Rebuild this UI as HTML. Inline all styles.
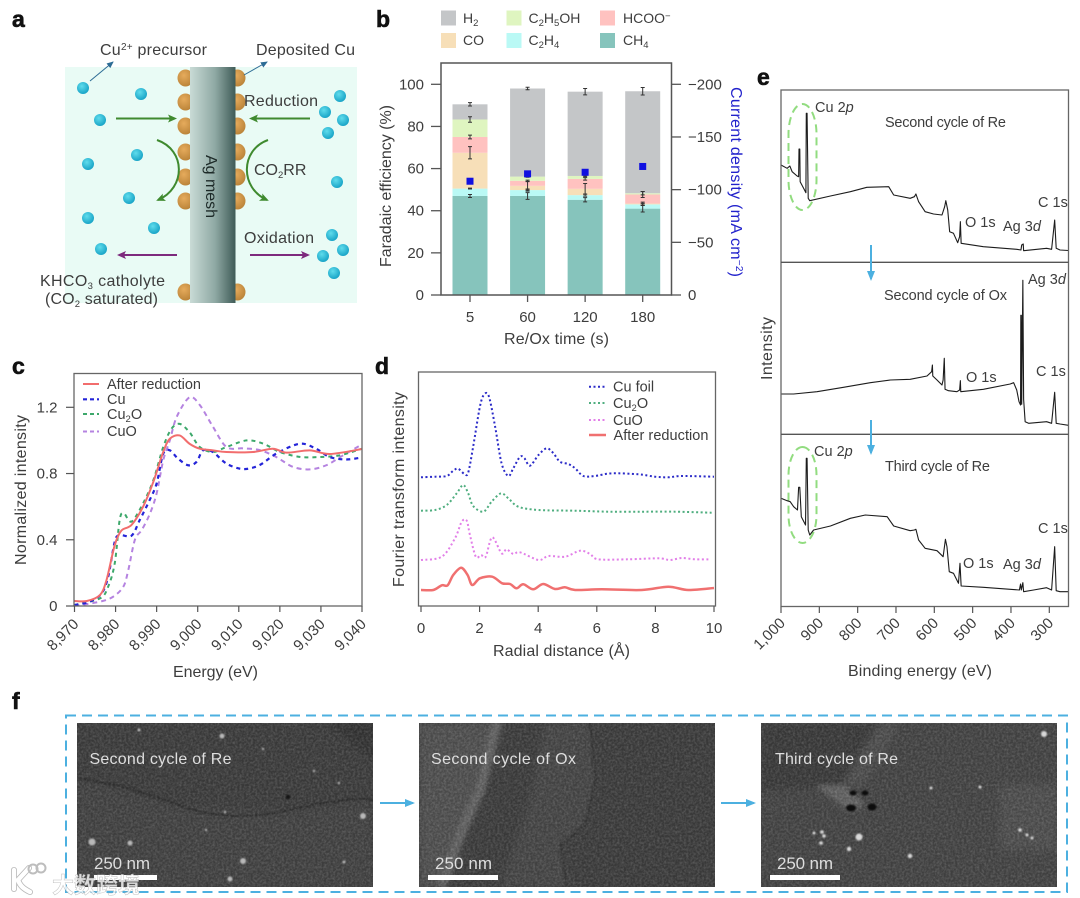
<!DOCTYPE html>
<html lang="en">
<head>
<meta charset="utf-8">
<title>Cu electrode characterisation figure</title>
<style>
html,body{margin:0;padding:0;background:#fff;}
svg{display:block;}
text{font-family:"Liberation Sans","Noto Sans CJK SC",sans-serif;fill:#3d3d3d;font-size:15px;}
.pl{font-weight:700;font-size:23px;fill:#111;stroke:#111;stroke-width:.6px;}
.sem{fill:#dedede;font-size:16px;}
.sub{font-size:9.5px;}
.at{font-size:16px;}
.lg{font-size:14px;}
.pk{font-size:14.5px;}
</style>
</head>
<body>
<svg id="fig" xmlns="http://www.w3.org/2000/svg" width="1080" height="898" viewBox="0 0 1080 898">
<defs>
<linearGradient id="meshGrad" x1="0" x2="1" y1="0" y2="0"><stop offset="0" stop-color="#c9dbd6"/><stop offset=".55" stop-color="#8fa9a4"/><stop offset="1" stop-color="#3f5b57"/></linearGradient>
<radialGradient id="ballGrad" cx=".4" cy=".35" r=".7"><stop offset="0" stop-color="#5fdcec"/><stop offset="1" stop-color="#14a0c4"/></radialGradient>
<radialGradient id="cuGrad" cx=".4" cy=".35" r=".75"><stop offset="0" stop-color="#e6ab5c"/><stop offset="1" stop-color="#b57f35"/></radialGradient>
<marker id="mGreen" markerWidth="9" markerHeight="8" refX="7" refY="4" orient="auto" markerUnits="userSpaceOnUse"><path d="M0 0L9 4L0 8L2 4Z" fill="#3f8a2f"/></marker>
<marker id="mPurple" markerWidth="9" markerHeight="8" refX="7" refY="4" orient="auto" markerUnits="userSpaceOnUse"><path d="M0 0L9 4L0 8L2 4Z" fill="#7d2a7d"/></marker>
<marker id="mBlue" markerWidth="7" markerHeight="6" refX="6" refY="3" orient="auto" markerUnits="userSpaceOnUse"><path d="M0 0L7 3L0 6Z" fill="#2d6c95"/></marker>
<marker id="mSky" markerWidth="10" markerHeight="8" refX="8" refY="4" orient="auto" markerUnits="userSpaceOnUse"><path d="M0 0L10 4L0 8Z" fill="#4cb0e0"/></marker>
<filter id="grain" x="0" y="0" width="100%" height="100%" color-interpolation-filters="sRGB"><feTurbulence type="fractalNoise" baseFrequency=".45" numOctaves="2" seed="4"/><feColorMatrix values="1.5 0 0 0 -.5  1.5 0 0 0 -.5  1.5 0 0 0 -.5  0 0 0 0 .16"/></filter>
<filter id="soft" x="-20%" y="-20%" width="140%" height="140%"><feGaussianBlur stdDeviation="4"/></filter>
<filter id="soft2" x="-30%" y="-10%" width="160%" height="120%"><feGaussianBlur stdDeviation="2.5"/></filter>
<filter id="soft1" x="-30%" y="-30%" width="160%" height="160%"><feGaussianBlur stdDeviation=".9"/></filter>
<clipPath id="clipC"><rect x="74" y="373" width="288" height="233"/></clipPath>
<clipPath id="clip1"><rect x="77" y="723" width="296" height="164"/></clipPath>
<clipPath id="clip2"><rect x="419" y="723" width="296" height="164"/></clipPath>
<clipPath id="clip3"><rect x="761" y="723" width="296" height="164"/></clipPath>
</defs>
<rect width="1080" height="898" fill="#fff"/>

<g>
<text class="pl" x="12" y="27">a</text>
<text class="pl" x="376" y="27">b</text>
<text class="pl" x="12" y="374">c</text>
<text class="pl" x="375" y="374">d</text>
<text class="pl" x="757" y="85">e</text>
<text class="pl" x="12" y="709">f</text>
</g>

<!-- PANEL A -->
<g id="panelA">
<rect x="65" y="67" width="292" height="236" fill="#e9fbf5"/>
<g id="cuDots"></g>
<rect x="190" y="67" width="45.5" height="236" fill="url(#meshGrad)"/>
<text class="at" transform="translate(206,155) rotate(90)" textLength="63" style="fill:#1d2a28">Ag mesh</text>
<g id="ions"></g>
<g fill="none" stroke-width="2">
<line x1="116" y1="118.5" x2="175" y2="118.5" stroke="#3f8a2f" marker-end="url(#mGreen)"/>
<line x1="310" y1="118.5" x2="251" y2="118.5" stroke="#3f8a2f" marker-end="url(#mGreen)"/>
<path d="M157 140C186 150 186 188 158 200" stroke="#3f8a2f" marker-end="url(#mGreen)"/>
<path d="M268 140C240 150 240 188 267 200" stroke="#3f8a2f" marker-end="url(#mGreen)"/>
<line x1="177" y1="255" x2="119" y2="255" stroke="#7d2a7d" marker-end="url(#mPurple)"/>
<line x1="250" y1="255" x2="308" y2="255" stroke="#7d2a7d" marker-end="url(#mPurple)"/>
<line x1="90" y1="81" x2="113" y2="62" stroke="#2d6c95" stroke-width="1" marker-end="url(#mBlue)"/>
<line x1="244" y1="75" x2="267" y2="62" stroke="#2d6c95" stroke-width="1" marker-end="url(#mBlue)"/>
</g>
<text class="at" x="100" y="55" textLength="107">Cu<tspan dy="-5" style="font-size:10px">2+</tspan><tspan dy="5"> precursor</tspan></text>
<text class="at" x="256" y="55" textLength="99">Deposited Cu</text>
<text class="at" x="244" y="106" textLength="74">Reduction</text>
<text class="at" x="254" y="175">CO<tspan dy="3" class="sub">2</tspan><tspan dy="-3">RR</tspan></text>
<text class="at" x="244" y="243" textLength="70">Oxidation</text>
<text class="at" x="40" y="286" textLength="125">KHCO<tspan dy="3" class="sub">3</tspan><tspan dy="-3"> catholyte</tspan></text>
<text class="at" x="45" y="304" textLength="113">(CO<tspan dy="3" class="sub">2</tspan><tspan dy="-3"> saturated)</tspan></text>
</g>

<!-- PANEL B -->
<g id="panelB">
<g id="bBars"></g>
<rect x="441" y="63" width="230.5" height="232" fill="none" stroke="#555" stroke-width="1.5"/>
<g id="bAxes"></g>
<g>
<rect x="441" y="10.5" width="15" height="15" fill="#c4c6c8"/>
<text class="lg" x="463" y="23">H<tspan dy="3" class="sub">2</tspan></text>
<rect x="506.5" y="10.5" width="15" height="15" fill="#dff5c0"/>
<text class="lg" x="528.5" y="23">C<tspan dy="3" class="sub">2</tspan><tspan dy="-3">H</tspan><tspan dy="3" class="sub">5</tspan><tspan dy="-3">OH</tspan></text>
<rect x="600" y="10.5" width="15" height="15" fill="#ffc2c0"/>
<text class="lg" x="623" y="23">HCOO<tspan dy="-4" class="sub">−</tspan></text>
<rect x="441" y="33" width="15" height="15" fill="#f7dfb8"/>
<text class="lg" x="463" y="45">CO</text>
<rect x="506.5" y="33" width="15" height="15" fill="#baf9f5"/>
<text class="lg" x="528.5" y="45">C<tspan dy="3" class="sub">2</tspan><tspan dy="-3">H</tspan><tspan dy="3" class="sub">4</tspan></text>
<rect x="600" y="33" width="15" height="15" fill="#86c4bc"/>
<text class="lg" x="623" y="45">CH<tspan dy="3" class="sub">4</tspan></text>
</g>
<text class="at" transform="translate(391,267) rotate(-90)" textLength="162">Faradaic efficiency (%)</text>
<text class="at" x="504" y="344" textLength="105">Re/Ox time (s)</text>
<text class="at" transform="translate(731,87) rotate(90)" textLength="190" style="fill:#2222cc">Current density (mA cm<tspan dy="-5" style="font-size:10px;fill:#2222cc">−2</tspan><tspan dy="5" style="fill:#2222cc">)</tspan></text>
</g>

<!-- PANEL C -->
<g id="panelC">
<g id="cLines" clip-path="url(#clipC)"></g>
<rect x="74" y="373.5" width="288" height="232.5" fill="none" stroke="#666" stroke-width="1.3"/>
<g id="cAxes"></g>
<g>
<line x1="83" y1="384" x2="99" y2="384" stroke="#f26d6d" stroke-width="2"/>
<text class="pk" x="107" y="389" textLength="94">After reduction</text>
<line x1="83" y1="399.3" x2="99" y2="399.3" stroke="#2424d8" stroke-width="2.2" stroke-dasharray="4 3"/>
<text class="pk" x="107" y="404">Cu</text>
<line x1="83" y1="414" x2="99" y2="414" stroke="#3da86b" stroke-width="2" stroke-dasharray="4 3"/>
<text class="pk" x="107" y="419">Cu<tspan dy="3" class="sub">2</tspan><tspan dy="-3">O</tspan></text>
<line x1="83" y1="431.5" x2="99" y2="431.5" stroke="#b583e0" stroke-width="2" stroke-dasharray="4 3"/>
<text class="pk" x="107" y="436">CuO</text>
</g>
<text class="at" transform="translate(26,565) rotate(-90)" textLength="150">Normalized intensity</text>
<text class="at" x="173" y="677" textLength="85">Energy (eV)</text>
</g>

<!-- PANEL D -->
<g id="panelD">
<g id="dLines"></g>
<rect x="418.5" y="372" width="297" height="234" fill="none" stroke="#666" stroke-width="1.3"/>
<g id="dAxes"></g>
<g>
<line x1="589" y1="386.7" x2="606" y2="386.7" stroke="#2b2bc8" stroke-width="2" stroke-dasharray="2 2.5"/>
<text class="pk" x="613" y="391.5">Cu foil</text>
<line x1="589" y1="403" x2="606" y2="403" stroke="#4fae7f" stroke-width="2" stroke-dasharray="2 2.5"/>
<text class="pk" x="613" y="408">Cu<tspan dy="3" class="sub">2</tspan><tspan dy="-3">O</tspan></text>
<line x1="589" y1="420" x2="606" y2="420" stroke="#e27fe8" stroke-width="2" stroke-dasharray="2 2.5"/>
<text class="pk" x="613" y="425">CuO</text>
<line x1="589" y1="435" x2="606" y2="435" stroke="#f07070" stroke-width="2.5"/>
<text class="pk" x="613.5" y="440" textLength="95">After reduction</text>
</g>
<text class="at" transform="translate(404,587) rotate(-90)" textLength="195">Fourier transform intensity</text>
<text class="at" x="493" y="656" textLength="137">Radial distance (Å)</text>
</g>

<!-- PANEL E -->
<g id="panelE">
<rect x="788.5" y="104" width="28" height="106" rx="14" ry="30" fill="none" stroke="#92dc80" stroke-width="2" stroke-dasharray="8 5"/>
<rect x="788.5" y="447" width="28" height="96" rx="14" ry="28" fill="none" stroke="#92dc80" stroke-width="2" stroke-dasharray="8 5"/>
<g id="eLines"></g>
<rect x="781" y="90" width="287.5" height="516.5" fill="none" stroke="#666" stroke-width="1.3"/>
<line x1="781" x2="1068.5" y1="262.3" y2="262.3" stroke="#555" stroke-width="1.3"/>
<line x1="781" x2="1068.5" y1="434.3" y2="434.3" stroke="#555" stroke-width="1.3"/>
<g id="eAxes"></g>
<line x1="871" y1="245" x2="871" y2="279" stroke="#4cb0e0" stroke-width="2" marker-end="url(#mSky)"/>
<line x1="871" y1="420" x2="871" y2="453" stroke="#4cb0e0" stroke-width="2" marker-end="url(#mSky)"/>
<text class="pk" x="815" y="112">Cu 2<tspan font-style="italic">p</tspan></text>
<text class="pk" x="885" y="127" textLength="121">Second cycle of Re</text>
<text class="pk" x="965" y="227">O 1s</text>
<text class="pk" x="1003" y="231">Ag 3<tspan font-style="italic">d</tspan></text>
<text class="pk" x="1038" y="207">C 1s</text>
<text class="pk" x="1028" y="284">Ag 3<tspan font-style="italic">d</tspan></text>
<text class="pk" x="884" y="300" textLength="123">Second cycle of Ox</text>
<text class="pk" x="966" y="382">O 1s</text>
<text class="pk" x="1036" y="376">C 1s</text>
<text class="pk" x="814" y="456">Cu 2<tspan font-style="italic">p</tspan></text>
<text class="pk" x="885" y="471" textLength="105">Third cycle of Re</text>
<text class="pk" x="963" y="568">O 1s</text>
<text class="pk" x="1003" y="569">Ag 3<tspan font-style="italic">d</tspan></text>
<text class="pk" x="1038" y="533">C 1s</text>
<text class="at" transform="translate(772,380) rotate(-90)" textLength="63">Intensity</text>
<text class="at" x="848" y="676" textLength="144">Binding energy (eV)</text>
</g>

<!-- PANEL F -->
<g id="panelF">
<rect x="66" y="715.5" width="1001" height="176.5" fill="none" stroke="#4cb0e0" stroke-width="2" stroke-dasharray="10 6"/>
<g clip-path="url(#clip1)">
<rect x="77" y="723" width="296" height="164" fill="#434343"/>
<path d="M77 780L180 808L290 812L373 802V887H77Z" fill="#4a4a4a" filter="url(#soft)"/>
<path d="M330 723L373 760V723Z" fill="#383838" filter="url(#soft)"/>
<path d="M77 778Q130 786 179 805T289 810T373 800" fill="none" stroke="#2d2d2d" stroke-width="1.5" filter="url(#soft1)"/>
<rect x="77" y="723" width="296" height="164" filter="url(#grain)"/>
<g fill="#b8b8b8" filter="url(#soft1)"><circle cx="92" cy="842" r="3.5"/><circle cx="130" cy="843" r="2.5"/><circle cx="243" cy="861" r="3"/><circle cx="222" cy="736" r="2.5"/><circle cx="363" cy="816" r="3"/><circle cx="139" cy="730" r="1.5"/><circle cx="230" cy="879" r="2.5"/><circle cx="344" cy="862" r="1.5"/><circle cx="263" cy="749" r="1.2"/><circle cx="314" cy="771" r="1.2"/><circle cx="339" cy="783" r="1.2"/><circle cx="225" cy="812" r="1.2"/><circle cx="206" cy="830" r="1.2"/></g>
<circle cx="288" cy="797" r="2.5" fill="#141414" filter="url(#soft1)"/>
<text class="sem" x="89.5" y="764" textLength="142">Second cycle of Re</text>
<text class="sem" x="94" y="869" textLength="56" style="font-size:17px">250 nm</text>
<rect x="94" y="875" width="63" height="5" fill="#fff"/>
</g>
<line x1="380" y1="803" x2="413" y2="803" stroke="#4cb0e0" stroke-width="2" marker-end="url(#mSky)"/>
<g clip-path="url(#clip2)">
<rect x="419" y="723" width="296" height="164" fill="#434343"/>
<path d="M419 723H500L482 790L465 830L444 887H419Z" fill="#595959" filter="url(#soft)"/>
<path d="M545 723H590L596 780L585 825L561 845L570 887H500L530 800Z" fill="#4d4d4d" filter="url(#soft)"/>
<path d="M497 723L480 790L462 830L441 887" fill="none" stroke="#6e6e6e" stroke-width="9" filter="url(#soft2)"/>
<path d="M590 723L596 780L585 825L561 845L567 887" fill="none" stroke="#383838" stroke-width="2" filter="url(#soft1)"/>
<rect x="419" y="723" width="296" height="164" filter="url(#grain)"/>
<text class="sem" x="431" y="764" textLength="145">Second cycle of Ox</text>
<text class="sem" x="435" y="869" textLength="57" style="font-size:17px">250 nm</text>
<rect x="428" y="875" width="70" height="5" fill="#fff"/>
</g>
<line x1="721" y1="803" x2="754" y2="803" stroke="#4cb0e0" stroke-width="2" marker-end="url(#mSky)"/>
<g clip-path="url(#clip3)">
<rect x="761" y="723" width="296" height="164" fill="#4b4b4b"/>
<path d="M761 723H880L845 785L761 790Z" fill="#3f3f3f" filter="url(#soft)"/>
<path d="M880 723H900L862 785H842Z" fill="#575757" filter="url(#soft)"/>
<path d="M815 785H845L865 805L850 812Z" fill="#6c6c6c" filter="url(#soft2)"/>
<path d="M1000 785H1057V850H1000Z" fill="#565656" filter="url(#soft)"/>
<rect x="761" y="723" width="296" height="164" filter="url(#grain)"/>
<g fill="#0c0c0c" filter="url(#soft1)"><ellipse cx="851" cy="808" rx="5" ry="3.5"/><ellipse cx="872" cy="807" rx="4.5" ry="3.5"/><ellipse cx="853" cy="793" rx="3.5" ry="2.5"/><ellipse cx="865" cy="793" rx="3.5" ry="2.5"/></g>
<g fill="#d8d8d8" filter="url(#soft1)"><circle cx="859" cy="837" r="3.5"/><circle cx="1044" cy="734" r="3"/><circle cx="822" cy="832" r="1.8"/><circle cx="824" cy="836" r="1.8"/><circle cx="821" cy="843" r="1.8"/><circle cx="814" cy="833" r="1.5"/><circle cx="849" cy="849" r="2.2"/><circle cx="910" cy="856" r="2.2"/><circle cx="1020" cy="830" r="1.8"/><circle cx="1027" cy="835" r="1.5"/><circle cx="1032" cy="838" r="1.5"/><circle cx="931" cy="788" r="1.5"/><circle cx="980" cy="787" r="1.5"/></g>
<text class="sem" x="775" y="764" textLength="123">Third cycle of Re</text>
<text class="sem" x="777" y="869" textLength="56" style="font-size:17px">250 nm</text>
<rect x="770" y="875" width="70" height="5" fill="#fff"/>
</g>
</g>

<g>
<path d="M14 870V889M29 868L18 880C20 886 24 889 30 892" fill="none" stroke="#9a9a9a" stroke-width="6" stroke-linecap="round" opacity=".7"/>
<path d="M14 870V889M29 868L18 880C20 886 24 889 30 892" fill="none" stroke="#fff" stroke-width="4.4" stroke-linecap="round"/>
<circle cx="33" cy="869" r="4.5" fill="none" stroke="#bdbdbd" stroke-width="2"/>
<circle cx="41" cy="868" r="4.5" fill="none" stroke="#bdbdbd" stroke-width="2"/>
<text x="52" y="893" textLength="88" style="font-size:22px;fill:rgba(255,255,255,.8);stroke:rgba(130,130,130,.5);stroke-width:.5px;font-weight:700">大数跨境</text>
</g>
</svg>

<script>
// ---------- panel a data ----------
const cuDotRows = [78, 102, 126, 152, 177, 201, 292];
const ionsX = [83, 141, 100, 137, 88, 129, 88, 154, 101, 340, 325, 343, 328, 337, 332, 343, 323, 334];
const ionsY = [88, 94, 120, 155, 164, 198, 218, 228, 249, 96, 112, 120, 133, 182, 235, 250, 256, 273];

// ---------- panel b data ----------
const bCategories = ['5', '60', '120', '180'];
const bLeftTicks = [0, 20, 40, 60, 80, 100];
const bRightTicks = [0, -50, -100, -150, -200];
const seriesCH4 = [47, 47, 45.2, 41];
const seriesC2H4 = [3.5, 2.8, 2.2, 2];
const seriesCO = [17, 2, 3, 0.4];
const seriesHCOO = [7.5, 2.4, 4.7, 4.3];
const seriesC2H5OH = [8.3, 2, 1.4, 0.6];
const seriesH2 = [7.2, 41.8, 40, 48.4];
const errCH4 = [0.7, 1.6, 1, 1.6];
const errC2H4 = [0.2, 0.5, 0.5, 0.5];
const errCO = [2.9, 2, 2.5, 0.7];
const errHCOO = [0.9, 0.3, 0.6, 1.4];
const errC2H5OH = [1.3, 0.3, 0.3, 0.8];
const errH2 = [0.8, 0.6, 1.5, 1.8];
const currentDensity = [-108, -115, -116.5, -122];

// ---------- panel c data ----------
const cTicksX = [8970, 8980, 8990, 9000, 9010, 9020, 9030, 9040];
const cTicksY = [0, 0.4, 0.8, 1.2];
const afterE = [8970, 8973, 8976.2, 8977.8, 8979.8, 8981.4, 8983.9, 8986.7, 8989.2, 8991.6, 8993.2, 8995.6, 8998, 9000.5, 9003.7, 9007, 9013.5, 9018.3, 9021.6, 9027.3, 9032.2, 9040];
const afterI = [0.03, 0.03, 0.066, 0.157, 0.368, 0.455, 0.49, 0.6, 0.75, 0.93, 1.01, 1.03, 0.98, 0.95, 0.94, 0.93, 0.93, 0.95, 0.926, 0.94, 0.918, 0.948];
const cuE = [8970, 8973.7, 8976.6, 8978.2, 8979.8, 8981, 8983.9, 8985.9, 8988.3, 8990, 8991.6, 8993.2, 8995.2, 8997.7, 8999.7, 9001.3, 9003.7, 9007, 9011, 9015, 9019.1, 9024.8, 9028.8, 9032.1, 9036.1, 9040];
const cuI = [0.006, 0.026, 0.076, 0.177, 0.388, 0.428, 0.425, 0.52, 0.64, 0.74, 0.92, 0.94, 0.89, 0.85, 0.87, 0.94, 0.93, 0.86, 0.827, 0.85, 0.92, 0.98, 0.95, 0.9, 0.885, 0.897];
const cu2oE = [8970, 8976.2, 8978.2, 8979.8, 8981, 8982, 8983.9, 8986.7, 8989.2, 8991.6, 8993.6, 8995.6, 8998, 9000.5, 9003.7, 9007, 9011.9, 9016, 9020, 9025, 9029.8, 9034.6, 9040];
const cu2oI = [0.006, 0.046, 0.117, 0.258, 0.52, 0.56, 0.51, 0.62, 0.76, 0.96, 1.07, 1.1, 1.05, 0.96, 0.93, 0.96, 1, 0.98, 0.93, 0.9, 0.9, 0.91, 0.95];
const cuoE = [8970, 8976.2, 8979.4, 8981.9, 8983.1, 8984.7, 8986.4, 8988.4, 8990, 8991.6, 8993.2, 8994.9, 8998, 9000.5, 9003.7, 9007, 9011, 9015, 9019.1, 9023.2, 9027.3, 9031.3, 9035.4, 9040];
const cuoI = [0, 0.026, 0.056, 0.117, 0.217, 0.4, 0.46, 0.56, 0.68, 0.88, 1, 1.143, 1.26, 1.214, 1.083, 0.96, 0.952, 0.942, 0.9, 0.84, 0.825, 0.85, 0.91, 0.976];

// ---------- panel d data ----------
const dTicksX = [0, 2, 4, 6, 8, 10];
const foilR = [0, 0.48, 0.88, 1.1, 1.27, 1.48, 1.61, 1.78, 2.01, 2.16, 2.32, 2.53, 2.75, 2.98, 3.15, 3.38, 3.53, 3.72, 4.01, 4.29, 4.52, 4.74, 5.03, 5.26, 5.54, 5.94, 6.51, 7.42, 7.99, 8.44, 8.9, 10];
const foilF = [128.7, 129.3, 130, 135.3, 137.3, 132, 133.3, 159.3, 199.3, 211.7, 209.3, 179.3, 142.7, 130, 137.7, 149.3, 147.7, 140.3, 151, 157.7, 152.7, 144.3, 142, 137.7, 130, 130, 132.7, 131.7, 129.3, 128.7, 130, 129.3];
const ftCu2oR = [0, 0.48, 0.88, 1.22, 1.44, 1.61, 1.78, 2.13, 2.41, 2.73, 2.98, 3.32, 4.01, 5.26, 6.39, 7.53, 8.67, 9.92];
const ftCu2oF = [95.3, 96, 101, 112.7, 121, 112.7, 100, 94.3, 104.3, 112.7, 107.7, 99.3, 96, 95.3, 94.3, 94.3, 94.3, 93.3];
const ftCuoR = [0, 0.71, 1.16, 1.39, 1.56, 1.67, 1.87, 2.05, 2.21, 2.43, 2.75, 2.92, 3.15, 3.38, 4.01, 4.35, 4.92, 5.43, 5.77, 6.05, 7.08, 8.1, 8.5, 8.9, 9.35, 9.86];
const ftCuoF = [46, 49.3, 67.7, 84.3, 85.3, 71, 49.3, 51, 49.3, 68.7, 52.7, 56.7, 52, 53.7, 46, 50, 49.3, 55.3, 52, 46.7, 46.7, 47.7, 46, 48, 46.7, 46.7];
const ftAfterR = [0, 0.42, 0.71, 0.91, 1.1, 1.37, 1.59, 1.75, 2.01, 2.43, 2.77, 3.04, 3.26, 3.49, 3.83, 4.17, 4.57, 4.91, 5.26, 6.17, 7.53, 8.44, 9.12, 10];
const ftAfterF = [16, 16, 20.7, 20.7, 31, 38.3, 31, 21, 27.7, 29.3, 22.7, 22, 17.7, 21.7, 16.7, 22, 17, 18.7, 16, 16.7, 16, 19.3, 16, 18];

// ---------- panel e data ----------
const eTicksX = [1000, 900, 800, 700, 600, 500, 400, 300];
const xps1E = [1000, 984, 977, 971, 958, 954, 953, 951, 950, 941, 935, 934, 932, 929, 925, 871, 819, 776, 719, 706, 663, 652, 648, 641, 624, 602, 580, 573, 570, 565, 560, 550, 539, 534, 532, 530, 472, 385, 374, 372, 368, 367, 307, 294, 286, 282, 272, 250];
const xps1I = [97.3, 94, 96.3, 90.6, 86.3, 85.6, 113.3, 113.3, 80.6, 74, 69.6, 149, 149, 64, 61.6, 66.3, 70.6, 75, 75.6, 67.3, 64, 65.6, 68.3, 60.6, 50.6, 48.3, 47.3, 55.6, 61.6, 52.3, 30.6, 29, 19.6, 25.6, 40.6, 19, 15.6, 13, 12.3, 17.3, 18.3, 11.6, 14, 13, 42.3, 14, 12.3, 11.8];
const xps2E = [1000, 967, 906, 837, 767, 715, 663, 619, 607, 605, 604, 593, 580, 577, 574, 572, 563, 541, 534, 532, 531, 472, 402, 393, 385, 379, 375, 374.3, 373, 372, 369, 367, 363, 354, 307, 294, 286, 282, 272, 250];
const xps2I = [40.3, 40.3, 42.6, 47, 51.6, 54.3, 55, 58.3, 62.6, 69.3, 58.3, 54.3, 49.3, 54.3, 76, 45, 43.6, 42.6, 44.3, 53.6, 42.6, 45, 50.3, 51.6, 44.3, 32.6, 29.3, 119, 119, 30, 154, 35, 12.6, 11, 12.6, 11, 42, 11, 10.3, 9];
const xps3E = [1000, 984, 976, 967, 957, 954, 951, 947, 936, 934, 932, 929, 925, 915, 871, 819, 780, 723, 706, 663, 652, 648, 641, 624, 593, 577, 571, 567, 561, 550, 537, 533, 530, 472, 402, 378, 375, 373, 369, 367, 341, 307, 294, 286, 282, 272, 250];
const xps3I = [108.4, 106, 105, 100, 96.7, 119.4, 119.4, 90, 81.7, 148.4, 148.4, 76.7, 71.7, 76.7, 80.7, 88.4, 91.7, 90, 80.7, 76, 76.7, 77.4, 66.7, 58.4, 56, 50, 67.4, 60, 35, 33.4, 23.4, 43.4, 20.7, 19.4, 17.4, 16.7, 22.7, 16.7, 24, 15, 16.7, 19, 16.7, 60, 16, 15, 15];

// ---------- helpers ----------
const NS = 'http://www.w3.org/2000/svg';
function mk(tag, attrs, parent) {
  const n = document.createElementNS(NS, tag);
  for (const k in attrs) n.setAttribute(k, attrs[k]);
  parent.appendChild(n);
  return n;
}
const $ = id => document.getElementById(id);
function linear(d0, d1, r0, r1) { return v => r0 + (v - d0) * (r1 - r0) / (d1 - d0); }
function smooth(xs, ys, fx, fy) {
  const p = xs.map((v, i) => [fx(v), fy(ys[i])]);
  let d = 'M' + p[0][0].toFixed(2) + ' ' + p[0][1].toFixed(2);
  for (let i = 0; i < p.length - 1; i++) {
    const a = p[Math.max(0, i - 1)], b = p[i], c = p[i + 1], e = p[Math.min(p.length - 1, i + 2)];
    const k = 0.16;
    d += 'C' + (b[0] + (c[0] - a[0]) * k).toFixed(2) + ' ' + (b[1] + (c[1] - a[1]) * k).toFixed(2) + ' ' +
      (c[0] - (e[0] - b[0]) * k).toFixed(2) + ' ' + (c[1] - (e[1] - b[1]) * k).toFixed(2) + ' ' + c[0].toFixed(2) + ' ' + c[1].toFixed(2);
  }
  return d;
}
function poly(xs, ys, fx, fy) {
  return xs.map((v, i) => (i ? 'L' : 'M') + fx(v).toFixed(2) + ' ' + fy(ys[i]).toFixed(2)).join('');
}
function fmtThousands(v) { return String(v).replace(/\B(?=(\d{3})+$)/, ','); }

// ---------- panel a marks ----------
cuDotRows.forEach(y => {
  [185.5, 237.5].forEach(x => {
    const c = mk('ellipse', { cx: x, cy: y, rx: 8, ry: 8.5, fill: 'url(#cuGrad)' }, $('cuDots'));
    
    
  });
});
ionsX.forEach((x, i) => {
  const c = mk('circle', { cx: x, cy: ionsY[i], r: 6, fill: 'url(#ballGrad)' }, $('ions'));
  
  
});

// ---------- panel b ----------
const bY = linear(0, 100, 295, 84.3);
const bYR = linear(0, -200, 295, 84.3);
const bX = linear(0, 3, 470, 642.7);
const barW = 35;
const stackOrder = [
  ['ch4', seriesCH4, errCH4, '#86c4bc'],
  ['c2h4', seriesC2H4, errC2H4, '#baf9f5'],
  ['co', seriesCO, errCO, '#f7dfb8'],
  ['hcoo', seriesHCOO, errHCOO, '#ffc2c0'],
  ['c2h5oh', seriesC2H5OH, errC2H5OH, '#dff5c0'],
  ['h2', seriesH2, errH2, '#c4c6c8']
];
bCategories.forEach((cat, i) => {
  let cum = 0;
  const cx = bX(i);
  const tops = [];
  stackOrder.forEach(s => {
    const bar = mk('rect', { x: cx - barW / 2, y: bY(cum + s[1][i]), width: barW, height: bY(cum) - bY(cum + s[1][i]), fill: s[3] }, $('bBars'));
    
    
    cum += s[1][i];
    tops.push([cum, s[2][i]]);
  });
  tops.forEach(t => {
    const err = mk('path', {
      d: 'M' + (cx - 2) + ' ' + bY(t[0] + t[1]) + 'h4M' + cx + ' ' + bY(t[0] + t[1]) + 'V' + bY(t[0] - t[1]) + 'M' + (cx - 2) + ' ' + bY(t[0] - t[1]) + 'h4',
      stroke: '#333', 'stroke-width': 1, fill: 'none'
    }, $('bBars'));
    
    
  });
  const sq = mk('rect', { x: cx - 3.5, y: bYR(currentDensity[i]) - 3.5, width: 7, height: 7, fill: '#1010e0' }, $('bAxes'));
  
  
  const tick = mk('line', { x1: cx, x2: cx, y1: 295, y2: 302, stroke: '#555', 'stroke-width': 1.3 }, $('bAxes'));
  
  
  const lab = mk('text', { x: cx, y: 322, 'text-anchor': 'middle' }, $('bAxes'));
  
  
  lab.textContent = cat;
});
bLeftTicks.forEach(v => {
  const tick = mk('line', { x1: 431, x2: 441, y1: bY(v), y2: bY(v), stroke: '#555', 'stroke-width': 1.3 }, $('bAxes'));
  
  
  const lab = mk('text', { x: 424, y: bY(v) + 5, 'text-anchor': 'end' }, $('bAxes'));
  
  
  lab.textContent = v;
});
bRightTicks.forEach(v => {
  const tick = mk('line', { x1: 671, x2: 681, y1: bYR(v), y2: bYR(v), stroke: '#555', 'stroke-width': 1.3 }, $('bAxes'));
  
  
  const lab = mk('text', { x: 688, y: bYR(v) + 5 }, $('bAxes'));
  
  
  lab.textContent = v === 0 ? '0' : '−' + Math.abs(v);
});

// ---------- panel c ----------
const cX = linear(8970, 9040, 74.5, 362);
const cY = linear(0, 1.2, 606, 407.3);
[
  ['cuo', cuoE, cuoI, '#b583e0', 2, '5 4'],
  ['cu2o', cu2oE, cu2oI, '#3da86b', 2, '4 4'],
  ['cu', cuE, cuI, '#2424d8', 2.2, '4 4'],
  ['after-reduction', afterE, afterI, '#f26d6d', 2, 'none']
].forEach(s => {
  const p = mk('path', { d: smooth(s[1], s[2], cX, cY), fill: 'none', stroke: s[3], 'stroke-width': s[4], 'stroke-dasharray': s[5] }, $('cLines'));
  
  
});
cTicksX.forEach(v => {
  const tick = mk('line', { x1: cX(v), x2: cX(v), y1: 606, y2: 612, stroke: '#555', 'stroke-width': 1.2 }, $('cAxes'));
  
  
  const lab = mk('text', { transform: 'translate(' + (cX(v) + 5) + ',625) rotate(-45)', 'text-anchor': 'end' }, $('cAxes'));
  
  
  lab.textContent = fmtThousands(v);
});
cTicksY.forEach(v => {
  const tick = mk('line', { x1: 66, x2: 74, y1: cY(v), y2: cY(v), stroke: '#555', 'stroke-width': 1.2 }, $('cAxes'));
  
  
  const lab = mk('text', { x: 57.5, y: cY(v) + 5, 'text-anchor': 'end' }, $('cAxes'));
  
  
  lab.textContent = v === 0 ? '0' : v.toFixed(1);
});

// ---------- panel d ----------
const dX = linear(0, 10, 421, 714);
const dY = linear(0, 234, 606, 372);
[
  ['cu-foil', foilR, foilF, '#2b2bc8', 2, '2 2.5'],
  ['cu2o', ftCu2oR, ftCu2oF, '#4fae7f', 2, '2 2.5'],
  ['cuo', ftCuoR, ftCuoF, '#e27fe8', 2, '2 2.5'],
  ['after-reduction', ftAfterR, ftAfterF, '#f07070', 2.5, 'none']
].forEach(s => {
  const p = mk('path', { d: smooth(s[1], s[2], dX, dY), fill: 'none', stroke: s[3], 'stroke-width': s[4], 'stroke-dasharray': s[5] }, $('dLines'));
  
  
});
dTicksX.forEach(v => {
  const tick = mk('line', { x1: dX(v), x2: dX(v), y1: 606, y2: 612, stroke: '#555', 'stroke-width': 1.2 }, $('dAxes'));
  
  
  const lab = mk('text', { x: dX(v), y: 633, 'text-anchor': 'middle' }, $('dAxes'));
  
  
  lab.textContent = v;
});

// ---------- panel e ----------
const eX = linear(1000, 300, 781, 1049.3);
const eY1 = v => 262.3 - v;
const eY2 = v => 434.3 - v;
const eY3 = v => 606.7 - v;
[
  ['second-re', xps1E, xps1I, eY1],
  ['second-ox', xps2E, xps2I, eY2],
  ['third-re', xps3E, xps3I, eY3]
].forEach(s => {
  const p = mk('path', { d: poly(s[1], s[2], eX, s[3]), fill: 'none', stroke: '#1c1c1c', 'stroke-width': 1.1, 'stroke-linejoin': 'round' }, $('eLines'));
  
  
});
eTicksX.forEach(v => {
  const tick = mk('line', { x1: eX(v), x2: eX(v), y1: 606.7, y2: 613, stroke: '#555', 'stroke-width': 1.2 }, $('eAxes'));
  
  
  const lab = mk('text', { transform: 'translate(' + (eX(v) + 5) + ',624) rotate(-45)', 'text-anchor': 'end' }, $('eAxes'));
  
  
  lab.textContent = fmtThousands(v);
});
</script>
</body>
</html>
